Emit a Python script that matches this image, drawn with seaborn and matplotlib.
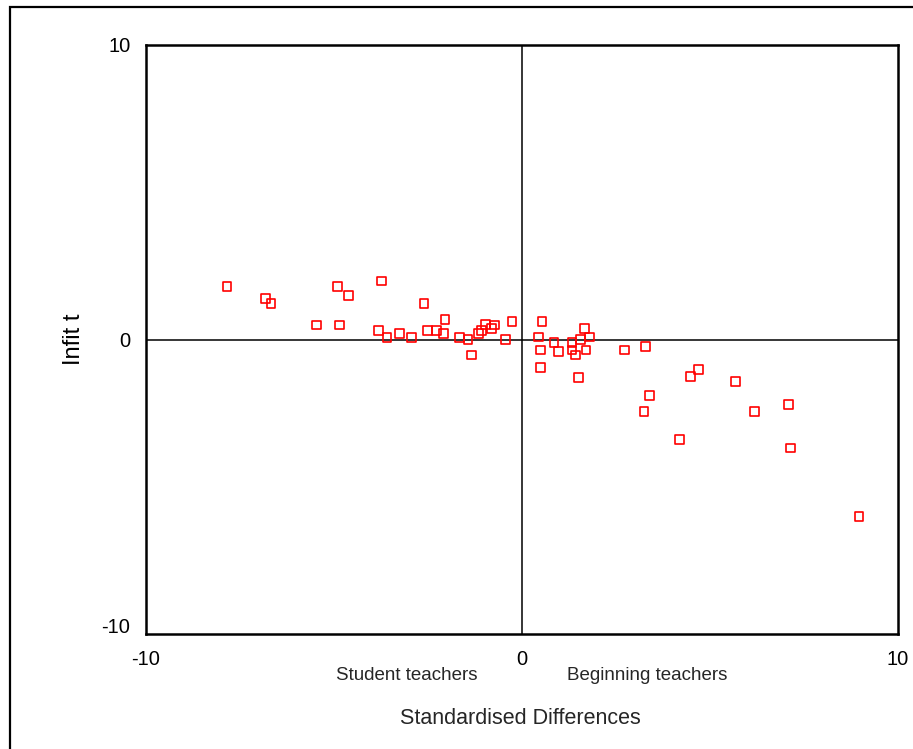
import matplotlib
matplotlib.use("Agg")
import matplotlib.pyplot as plt
import matplotlib.patches as mpatches
import matplotlib.transforms as mtransforms
import seaborn as sns
import pandas as pd

std_diff = [-7.84, -6.82, -6.67, -5.45, -4.89, -4.85, -4.61, -3.72, -3.81, -3.58,
            -3.26, -2.93, -2.60, -2.51, -2.27, -2.09, -2.04, -1.66, -1.43, -1.33,
            -1.14, -1.06, -0.97, -0.81, -0.73, -0.44, -0.26, 0.44, 0.49, 0.49,
            0.54, 0.86, 0.97, 1.34, 1.34, 1.44, 1.56, 1.66, 1.80, 1.71,
            1.52, 2.74, 3.30, 3.39, 3.25, 4.71, 4.48, 5.69, 6.20, 7.10,
            4.19, 7.14, 8.97]
infit_t = [1.81, 1.39, 1.22, 0.50, 1.81, 0.50, 1.51, 1.99, 0.32, 0.06,
           0.20, 0.06, 1.22, 0.32, 0.32, 0.20, 0.68, 0.06, 0.01, -0.52,
           0.20, 0.32, 0.52, 0.37, 0.50, 0.01, 0.61, 0.09, -0.35, -0.94,
           0.61, -0.11, -0.40, -0.11, -0.35, -0.52, 0.01, 0.37, 0.09, -0.35,
           -1.29, -0.35, -0.22, -1.90, -2.43, -1.00, -1.24, -1.42, -2.43, -2.19,
           -3.38, -3.68, -6.01]
x_ticks = [-10, 0, 10]
y_ticks = [-10, 0, 10]
x_group_labels = ["Student teachers", "Beginning teachers"]

df = pd.DataFrame({"x": std_diff, "y": infit_t})

sns.set_theme(style="white")
plt.rcParams["font.family"] = ["Liberation Sans", "DejaVu Sans"]

fig = plt.figure(figsize=(9.13, 7.49), dpi=100)
ax = fig.add_axes([145.7 / 913, 1 - 634.3 / 749, (897.7 - 145.7) / 913, (634.3 - 45) / 749])

ax.axhline(0, color="black", lw=1.1, zorder=1)
ax.axvline(0, color="black", lw=1.1, zorder=1)

sns.scatterplot(data=df, x="x", y="y", ax=ax, marker="s", s=40,
                facecolor="none", edgecolor="#ff0000", linewidth=1.2, zorder=3)

ax.set_xlim(-10, 10)
ax.set_ylim(-10, 10)
ax.set_xticks(x_ticks)
ax.set_yticks(y_ticks)
ax.set_xticklabels([str(t) for t in x_ticks], fontsize=14.5)
ax.set_yticklabels([str(t) for t in y_ticks], fontsize=14.5)
ax.tick_params(axis="both", direction="out", length=3, width=3, color="black", labelcolor="black")
ax.tick_params(axis="x", pad=8)
ax.tick_params(axis="y", pad=8)

# shift the lowest y tick label upward as in the reference
offset = mtransforms.ScaledTranslation(0, 9 / 100, fig.dpi_scale_trans)
ylabels = ax.get_yticklabels()
ylabels[0].set_transform(ylabels[0].get_transform() + offset)

for sp in ax.spines.values():
    sp.set_visible(True)
    sp.set_color("black")
    sp.set_linewidth(1.8)

ax.set_xlabel("")
ax.set_ylabel("Infit t", fontsize=17, labelpad=12, color="black")

fig.text(407 / 913, 1 - 676 / 749, x_group_labels[0], ha="center", va="center", fontsize=13.5)
fig.text(647 / 913, 1 - 676 / 749, x_group_labels[1], ha="center", va="center", fontsize=13.5)
fig.text(520 / 913, 1 - 719 / 749, "Standardised Differences", ha="center", va="center", fontsize=15.5)

frame = mpatches.Rectangle((10 / 913, -0.5), 1.5, 0.5 + (1 - 7 / 749), transform=fig.transFigure,
                           fill=False, edgecolor="black", linewidth=1.6, clip_on=False)
fig.patches.append(frame)

fig.savefig("out.png", dpi=100)
